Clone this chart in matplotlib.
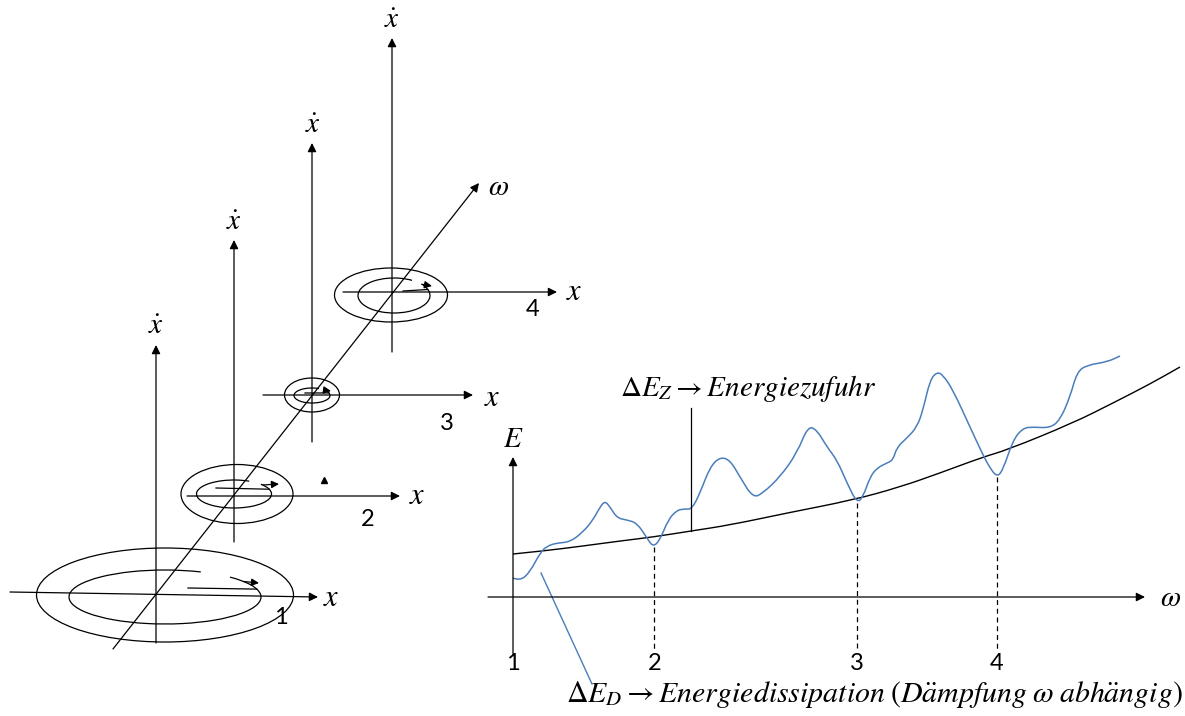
import numpy as np
import matplotlib.pyplot as plt
from matplotlib.patches import Ellipse, Arc, PathPatch
from matplotlib.path import Path

plt.rcParams['mathtext.fontset'] = 'stix'

# --- left sketch: four phase portraits along the omega axis (pixel coords) ---
origins = [(156, 594), (234, 496), (312, 395), (392, 292)]
x_axis_ends = [((10, 592), (318, 597)), ((187, 496), (400, 496)),
               ((263, 395), (473, 395)), ((343, 292), (557, 292))]
xdot_bottom = [643, 542, 442, 352]
xdot_top = [345, 240, 143, 38]
x_label_pos = [(331, 597), (417, 496), (492, 397), (574, 291)]
xdot_label_pos = [(156, 326), (234, 222), (313, 125), (392, 20)]
num_label_pos = [(281, 617), (368, 520), (447, 424), (533, 309)]
num_labels = ['1', '2', '3', '4']

outer_center = [(165, 595), (237, 494), (312, 395), (391, 295)]
outer_w = [257, 112, 55, 113]
outer_h = [94, 59, 34, 54]

inner_center = [(165, 597), (234, 494), (312, 395.5), (394, 295.5)]
inner_w = [192, 75, 36, 72]
inner_h = [54, 28, 15, 35]
inner_theta = [(-17, 325), (-20, 320), (-20, 315), (-20, 320)]
spur_start = [(188, 588), (216, 488), (305, 393), (403, 291)]
loop_arrow_tip = [(259, 583), (279, 484), (331, 391), (432, 286)]

omega_diag = [(113, 649), (479, 183)]

# --- right sketch: energy over omega (pixel coords) ---
blue_x = [513, 520, 530, 540, 547, 557, 570, 583, 593, 600, 605, 610, 617, 627,
          637, 647, 653, 660, 668, 677, 685, 692, 700, 710, 720, 730, 740, 753,
          763, 780, 797, 808, 817, 827, 837, 847, 857, 863, 870, 877, 887, 893,
          897, 907, 917, 923, 930, 937, 943, 953, 970, 983, 990, 997, 1003, 1013,
          1023, 1033, 1050, 1060, 1070, 1077, 1087, 1107, 1120]
blue_y = [578, 581, 572, 553, 546, 543, 542, 532, 520, 507, 501, 507, 518, 520,
          523, 538, 547, 540, 520, 510, 509, 509, 493, 467, 457, 460, 477, 498,
          493, 477, 453, 426, 430, 447, 460, 483, 503, 497, 477, 468, 463, 460,
          447, 438, 427, 410, 380, 372, 375, 390, 427, 455, 468, 477, 470, 440,
          428, 427, 428, 420, 397, 372, 365, 362, 356]

black_x = [513, 543, 583, 620, 653, 691, 730, 787, 853, 900, 940, 983, 1007,
           1073, 1113, 1150, 1180]
black_y = [554, 551, 546, 541, 537, 531, 525, 513, 500, 487, 473, 457, 450,
           423, 403, 384, 367]

dashed_x = [654, 857, 997]
dashed_top = [547, 503, 477]
bottom_labels = ['1', '2', '3', '4']
bottom_label_x = [513, 655, 857, 997]


def smooth_path(xs, ys):
    # quadratic bezier through the midpoints, the listed points act as controls
    pts = list(zip(xs, ys))
    verts = [pts[0]]
    codes = [Path.MOVETO]
    for k in range(1, len(pts) - 1):
        mid = ((pts[k][0] + pts[k + 1][0]) / 2, (pts[k][1] + pts[k + 1][1]) / 2)
        verts += [pts[k], mid]
        codes += [Path.CURVE3, Path.CURVE3]
    verts.append(pts[-1])
    codes.append(Path.LINETO)
    return Path(verts, codes)


fig = plt.figure(figsize=(11.85, 7.16), dpi=100)
ax = fig.add_axes([0, 0, 1, 1])
ax.set_xlim(0, 1185)
ax.set_ylim(716, 0)
ax.axis('off')

lw = 0.9
arrow = dict(arrowstyle='-|>', mutation_scale=13, lw=lw, color='black',
             shrinkA=0, shrinkB=0)
small_arrow = dict(arrowstyle='-|>', mutation_scale=11, lw=lw, color='black',
                   shrinkA=0, shrinkB=0)
math_size = 21

# omega diagonal
ax.annotate('', xy=omega_diag[1], xytext=omega_diag[0], arrowprops=arrow)
ax.text(499, 187, r'$\omega$', fontsize=math_size, ha='center', va='center')

for i in range(4):
    (x0, y0), (x1, y1) = x_axis_ends[i]
    ax.annotate('', xy=(x1, y1), xytext=(x0, y0), arrowprops=arrow)
    ox = origins[i][0]
    ax.annotate('', xy=(ox, xdot_top[i]), xytext=(ox, xdot_bottom[i]),
                arrowprops=arrow)
    ax.text(*x_label_pos[i], r'$x$', fontsize=math_size + 1, ha='center', va='center')
    ax.text(*xdot_label_pos[i], r'$\dot{x}$', fontsize=math_size, ha='center', va='center')
    ax.text(*num_label_pos[i], num_labels[i], fontsize=17, family='Lato',
            ha='center', va='center')

    ax.add_patch(Ellipse(outer_center[i], outer_w[i], outer_h[i], fill=False,
                         lw=lw, color='black'))
    t1, t2 = inner_theta[i]
    ax.add_patch(Arc(inner_center[i], inner_w[i], inner_h[i], theta1=t1, theta2=t2,
                     lw=lw, color='black'))
    cx, cy = inner_center[i]
    a = np.radians(t1)
    ax.plot([spur_start[i][0], cx + inner_w[i] / 2 * np.cos(a)],
            [spur_start[i][1], cy + inner_h[i] / 2 * np.sin(a)],
            color='black', lw=lw)
    b = np.radians(t2)
    ax.annotate('', xy=loop_arrow_tip[i],
                xytext=(cx + inner_w[i] / 2 * np.cos(b), cy + inner_h[i] / 2 * np.sin(b)),
                arrowprops=small_arrow)

# stray arrowhead next to portrait 2
ax.plot(324, 480, marker='^', color='black', markersize=5)

# right diagram axes
ax.annotate('', xy=(1145, 597), xytext=(488, 597), arrowprops=arrow)
ax.text(1171, 598, r'$\omega$', fontsize=math_size, ha='center', va='center')
ax.annotate('', xy=(513, 457), xytext=(513, 655), arrowprops=arrow)
ax.text(513, 439, r'$E$', fontsize=math_size, ha='center', va='center')

ax.add_patch(PathPatch(smooth_path(black_x, black_y), fill=False, color='black', lw=1.0))
ax.add_patch(PathPatch(smooth_path(blue_x, blue_y), fill=False, color='#4a7ebb', lw=1.1))

for xd, yt in zip(dashed_x, dashed_top):
    ax.plot([xd, xd], [yt, 650], color='black', lw=lw, ls=(0, (4, 3)))

for lab, xl in zip(bottom_labels, bottom_label_x):
    ax.text(xl, 663, lab, fontsize=17, family='Lato', ha='center', va='center')

# annotations
ax.plot([691, 691], [408, 531], color='black', lw=lw)
ax.text(620, 388, r'$\Delta E_Z \rightarrow Energiezufuhr$', fontsize=math_size,
        ha='left', va='center')
ax.plot([541, 592], [573, 684], color='#4a7ebb', lw=1.0)
ax.text(566, 694,
        r'$\Delta E_D \rightarrow Energiedissipation\;(D\ddot{a}mpfung\;\omega\;abh\ddot{a}ngig)$',
        fontsize=21.5, ha='left', va='center')

fig.savefig('out.png', dpi=100)
